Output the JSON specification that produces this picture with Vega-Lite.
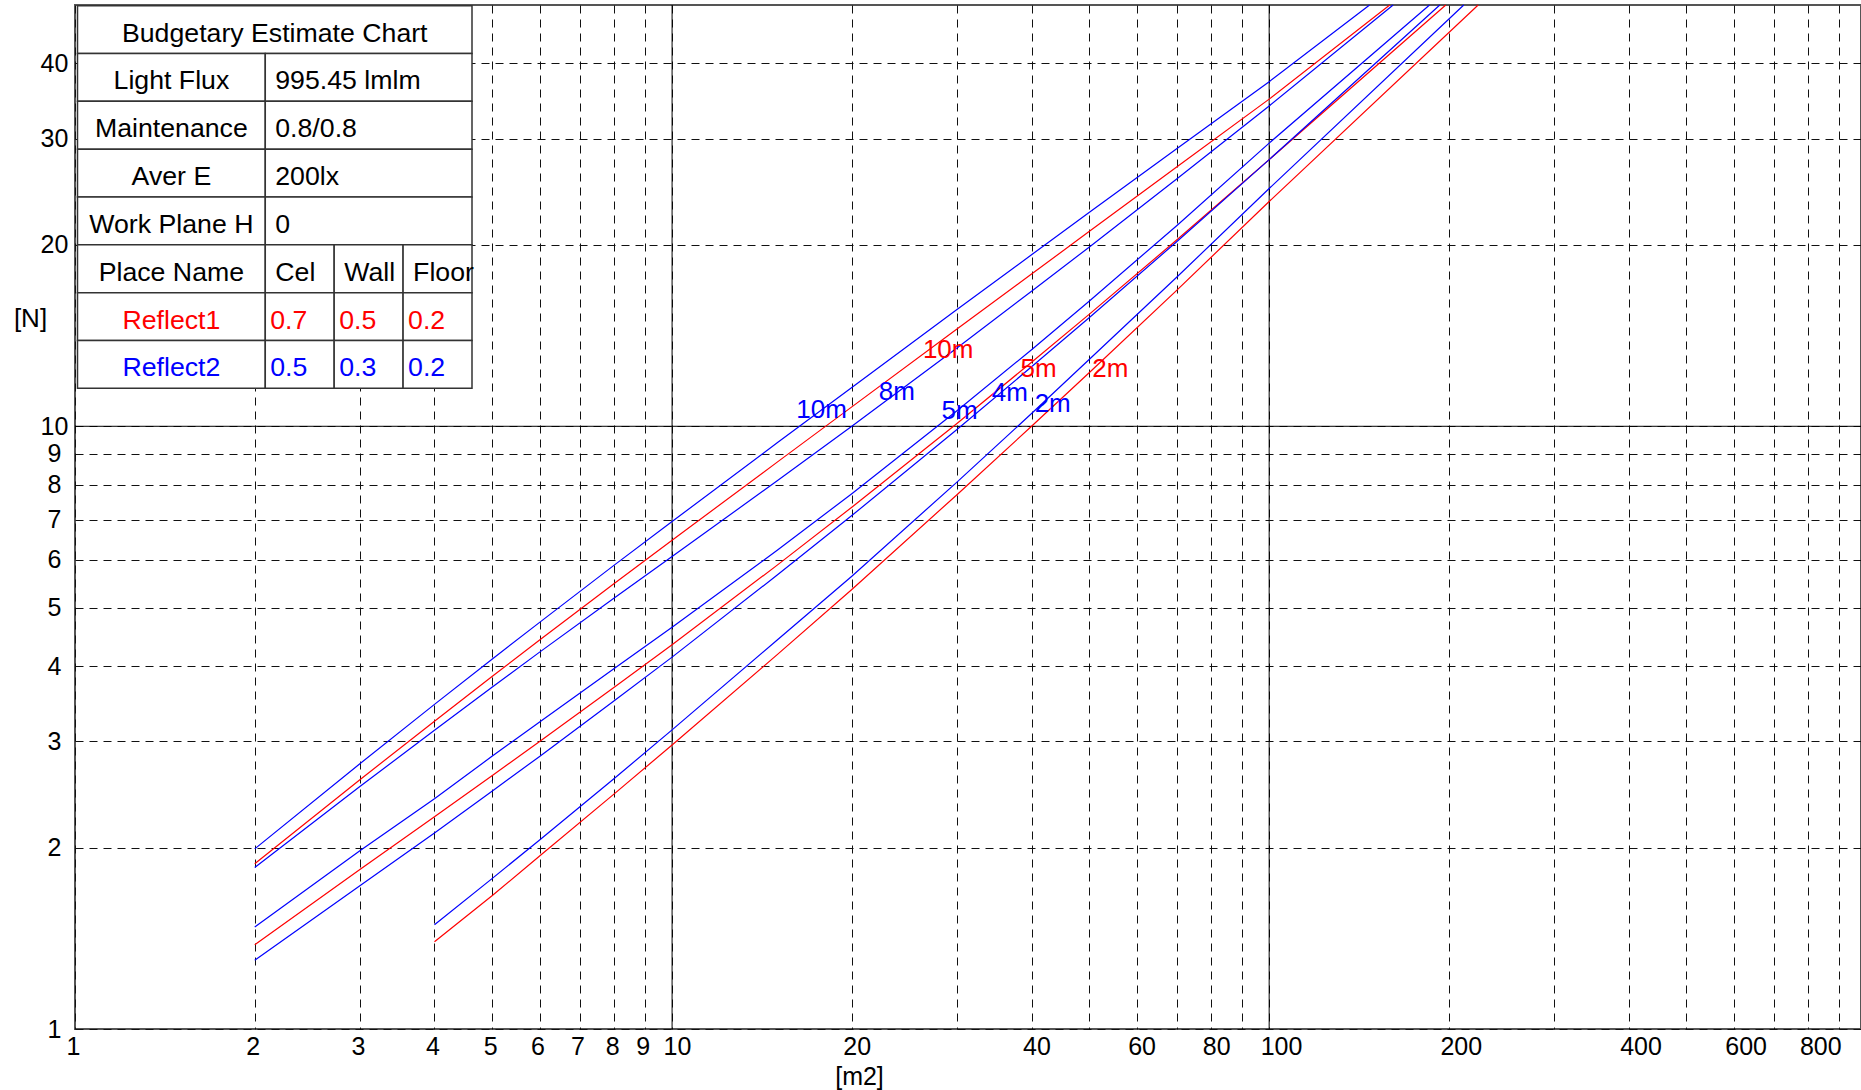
{
  "$schema": "https://vega.github.io/schema/vega-lite/v6.json",
  "width": 1786,
  "height": 1024,
  "autosize": "none",
  "padding": {"left": 75, "top": 5, "right": 0, "bottom": 61},
  "background": "white",
  "config": {
    "view": {"stroke": "#555", "strokeWidth": 2},
    "font": "Liberation Sans",
    "axis": {"domain": false, "ticks": false}
  },
  "resolve": {"scale": {"x": "independent", "y": "independent"}},
  "layer": [
    {
      "layer": [
        {
          "data": {"values": [{"area": 10}, {"area": 100}]},
          "mark": {"type": "rule", "color": "#000", "strokeWidth": 1},
          "encoding": {
            "x": {"field": "area", "type": "quantitative", "scale": {"type": "log", "domain": [1, 980], "nice": false, "zero": false}}
          }
        },
        {
          "data": {"values": [{"n": 10}]},
          "mark": {"type": "rule", "color": "#000", "strokeWidth": 1},
          "encoding": {
            "y": {"field": "n", "type": "quantitative", "scale": {"type": "log", "domain": [1, 50], "nice": false, "zero": false}}
          }
        },
        {
          "data": {"values": [
            {"refl": "Reflect2", "h": "10m", "area": 2, "n": 1.99},
            {"refl": "Reflect2", "h": "10m", "area": 3, "n": 2.755},
            {"refl": "Reflect2", "h": "10m", "area": 4, "n": 3.456},
            {"refl": "Reflect2", "h": "10m", "area": 5, "n": 4.111},
            {"refl": "Reflect2", "h": "10m", "area": 6, "n": 4.728},
            {"refl": "Reflect2", "h": "10m", "area": 8, "n": 5.884},
            {"refl": "Reflect2", "h": "10m", "area": 10, "n": 6.95},
            {"refl": "Reflect2", "h": "10m", "area": 15, "n": 9.39},
            {"refl": "Reflect2", "h": "10m", "area": 20, "n": 11.6},
            {"refl": "Reflect2", "h": "10m", "area": 30, "n": 15.62},
            {"refl": "Reflect2", "h": "10m", "area": 40, "n": 19.26},
            {"refl": "Reflect2", "h": "10m", "area": 50, "n": 22.65},
            {"refl": "Reflect2", "h": "10m", "area": 70, "n": 28.87},
            {"refl": "Reflect2", "h": "10m", "area": 100, "n": 37.3},
            {"refl": "Reflect2", "h": "10m", "area": 147.3, "n": 50},

            {"refl": "Reflect1", "h": "10m", "area": 2, "n": 1.88},
            {"refl": "Reflect1", "h": "10m", "area": 3, "n": 2.592},
            {"refl": "Reflect1", "h": "10m", "area": 4, "n": 3.24},
            {"refl": "Reflect1", "h": "10m", "area": 5, "n": 3.848},
            {"refl": "Reflect1", "h": "10m", "area": 6, "n": 4.419},
            {"refl": "Reflect1", "h": "10m", "area": 8, "n": 5.484},
            {"refl": "Reflect1", "h": "10m", "area": 10, "n": 6.47},
            {"refl": "Reflect1", "h": "10m", "area": 15, "n": 8.72},
            {"refl": "Reflect1", "h": "10m", "area": 20, "n": 10.77},
            {"refl": "Reflect1", "h": "10m", "area": 30, "n": 14.5},
            {"refl": "Reflect1", "h": "10m", "area": 40, "n": 17.89},
            {"refl": "Reflect1", "h": "10m", "area": 50, "n": 21.06},
            {"refl": "Reflect1", "h": "10m", "area": 70, "n": 26.92},
            {"refl": "Reflect1", "h": "10m", "area": 100, "n": 34.9},
            {"refl": "Reflect1", "h": "10m", "area": 159.2, "n": 50},

            {"refl": "Reflect2", "h": "8m", "area": 2, "n": 1.853},
            {"refl": "Reflect2", "h": "8m", "area": 3, "n": 2.525},
            {"refl": "Reflect2", "h": "8m", "area": 4, "n": 3.131},
            {"refl": "Reflect2", "h": "8m", "area": 5, "n": 3.693},
            {"refl": "Reflect2", "h": "8m", "area": 6, "n": 4.22},
            {"refl": "Reflect2", "h": "8m", "area": 8, "n": 5.19},
            {"refl": "Reflect2", "h": "8m", "area": 10, "n": 6.08},
            {"refl": "Reflect2", "h": "8m", "area": 15, "n": 8.12},
            {"refl": "Reflect2", "h": "8m", "area": 20, "n": 10.0},
            {"refl": "Reflect2", "h": "8m", "area": 30, "n": 13.49},
            {"refl": "Reflect2", "h": "8m", "area": 40, "n": 16.75},
            {"refl": "Reflect2", "h": "8m", "area": 50, "n": 19.84},
            {"refl": "Reflect2", "h": "8m", "area": 70, "n": 25.72},
            {"refl": "Reflect2", "h": "8m", "area": 100, "n": 34.0},
            {"refl": "Reflect2", "h": "8m", "area": 161.3, "n": 50},

            {"refl": "Reflect2", "h": "5m", "area": 2, "n": 1.477},
            {"refl": "Reflect2", "h": "5m", "area": 3, "n": 1.975},
            {"refl": "Reflect2", "h": "5m", "area": 4, "n": 2.41},
            {"refl": "Reflect2", "h": "5m", "area": 5, "n": 2.837},
            {"refl": "Reflect2", "h": "5m", "area": 6, "n": 3.231},
            {"refl": "Reflect2", "h": "5m", "area": 8, "n": 3.963},
            {"refl": "Reflect2", "h": "5m", "area": 10, "n": 4.64},
            {"refl": "Reflect2", "h": "5m", "area": 15, "n": 6.225},
            {"refl": "Reflect2", "h": "5m", "area": 20, "n": 7.73},
            {"refl": "Reflect2", "h": "5m", "area": 30, "n": 10.61},
            {"refl": "Reflect2", "h": "5m", "area": 40, "n": 13.4},
            {"refl": "Reflect2", "h": "5m", "area": 50, "n": 16.14},
            {"refl": "Reflect2", "h": "5m", "area": 70, "n": 21.52},
            {"refl": "Reflect2", "h": "5m", "area": 100, "n": 29.5},
            {"refl": "Reflect2", "h": "5m", "area": 185.6, "n": 50},

            {"refl": "Reflect1", "h": "5m", "area": 2, "n": 1.38},
            {"refl": "Reflect1", "h": "5m", "area": 3, "n": 1.84},
            {"refl": "Reflect1", "h": "5m", "area": 4, "n": 2.25},
            {"refl": "Reflect1", "h": "5m", "area": 5, "n": 2.633},
            {"refl": "Reflect1", "h": "5m", "area": 6, "n": 3.0},
            {"refl": "Reflect1", "h": "5m", "area": 8, "n": 3.69},
            {"refl": "Reflect1", "h": "5m", "area": 10, "n": 4.34},
            {"refl": "Reflect1", "h": "5m", "area": 15, "n": 5.884},
            {"refl": "Reflect1", "h": "5m", "area": 20, "n": 7.34},
            {"refl": "Reflect1", "h": "5m", "area": 30, "n": 10.11},
            {"refl": "Reflect1", "h": "5m", "area": 40, "n": 12.77},
            {"refl": "Reflect1", "h": "5m", "area": 50, "n": 15.35},
            {"refl": "Reflect1", "h": "5m", "area": 70, "n": 20.37},
            {"refl": "Reflect1", "h": "5m", "area": 100, "n": 27.7},
            {"refl": "Reflect1", "h": "5m", "area": 197.6, "n": 50},

            {"refl": "Reflect2", "h": "4m", "area": 2, "n": 1.3},
            {"refl": "Reflect2", "h": "4m", "area": 3, "n": 1.728},
            {"refl": "Reflect2", "h": "4m", "area": 4, "n": 2.115},
            {"refl": "Reflect2", "h": "4m", "area": 5, "n": 2.483},
            {"refl": "Reflect2", "h": "4m", "area": 6, "n": 2.833},
            {"refl": "Reflect2", "h": "4m", "area": 8, "n": 3.505},
            {"refl": "Reflect2", "h": "4m", "area": 10, "n": 4.14},
            {"refl": "Reflect2", "h": "4m", "area": 15, "n": 5.665},
            {"refl": "Reflect2", "h": "4m", "area": 20, "n": 7.11},
            {"refl": "Reflect2", "h": "4m", "area": 30, "n": 9.88},
            {"refl": "Reflect2", "h": "4m", "area": 40, "n": 12.55},
            {"refl": "Reflect2", "h": "4m", "area": 50, "n": 15.15},
            {"refl": "Reflect2", "h": "4m", "area": 70, "n": 20.24},
            {"refl": "Reflect2", "h": "4m", "area": 100, "n": 27.7},
            {"refl": "Reflect2", "h": "4m", "area": 193.1, "n": 50},

            {"refl": "Reflect2", "h": "2m", "area": 4, "n": 1.489},
            {"refl": "Reflect2", "h": "2m", "area": 5, "n": 1.778},
            {"refl": "Reflect2", "h": "2m", "area": 6, "n": 2.059},
            {"refl": "Reflect2", "h": "2m", "area": 8, "n": 2.604},
            {"refl": "Reflect2", "h": "2m", "area": 10, "n": 3.135},
            {"refl": "Reflect2", "h": "2m", "area": 15, "n": 4.42},
            {"refl": "Reflect2", "h": "2m", "area": 20, "n": 5.64},
            {"refl": "Reflect2", "h": "2m", "area": 30, "n": 8.08},
            {"refl": "Reflect2", "h": "2m", "area": 40, "n": 10.5},
            {"refl": "Reflect2", "h": "2m", "area": 50, "n": 12.92},
            {"refl": "Reflect2", "h": "2m", "area": 70, "n": 17.67},
            {"refl": "Reflect2", "h": "2m", "area": 100, "n": 24.8},
            {"refl": "Reflect2", "h": "2m", "area": 211.8, "n": 50},

            {"refl": "Reflect1", "h": "2m", "area": 4, "n": 1.396},
            {"refl": "Reflect1", "h": "2m", "area": 5, "n": 1.665},
            {"refl": "Reflect1", "h": "2m", "area": 6, "n": 1.937},
            {"refl": "Reflect1", "h": "2m", "area": 8, "n": 2.455},
            {"refl": "Reflect1", "h": "2m", "area": 10, "n": 2.96},
            {"refl": "Reflect1", "h": "2m", "area": 15, "n": 4.18},
            {"refl": "Reflect1", "h": "2m", "area": 20, "n": 5.36},
            {"refl": "Reflect1", "h": "2m", "area": 30, "n": 7.7},
            {"refl": "Reflect1", "h": "2m", "area": 40, "n": 10.0},
            {"refl": "Reflect1", "h": "2m", "area": 50, "n": 12.28},
            {"refl": "Reflect1", "h": "2m", "area": 70, "n": 16.81},
            {"refl": "Reflect1", "h": "2m", "area": 100, "n": 23.6},
            {"refl": "Reflect1", "h": "2m", "area": 223.9, "n": 50}
          ]},
          "mark": {"type": "line", "strokeWidth": 1.2},
          "encoding": {
            "x": {
              "field": "area", "type": "quantitative",
              "scale": {"type": "log", "domain": [1, 980], "nice": false, "zero": false},
              "axis": {
                "title": "[m2]",
                "values": [1,2,3,4,5,6,7,8,9,10,20,30,40,50,60,70,80,90,100,200,300,400,500,600,700,800,900],
                "format": "d",
                "labelExpr": "indexof([30,50,70,90,300,500,700,900], datum.value) >= 0 ? '' : datum.label",
                "grid": true, "gridColor": "#111", "gridDash": [8, 6], "gridWidth": 1,
                "labelFont": "Liberation Sans", "labelFontSize": 25, "labelColor": "#000",
                "labelAlign": "left", "labelOffset": -9, "labelPadding": 5, "labelBaseline": "top",
                "labelFlush": false, "labelOverlap": false, "labelBound": false,
                "titleFont": "Liberation Sans", "titleFontSize": 25, "titleFontWeight": "normal", "titleColor": "#000",
                "titleX": 784, "titleY": 47, "titleAlign": "center", "titleBaseline": "middle", "titleAnchor": null
              }
            },
            "y": {
              "field": "n", "type": "quantitative",
              "scale": {"type": "log", "domain": [1, 50], "nice": false, "zero": false},
              "axis": {
                "title": "[N]",
                "values": [1,2,3,4,5,6,7,8,9,10,20,30,40],
                "format": "d",
                "grid": true, "gridColor": "#111", "gridDash": [8, 6], "gridWidth": 1,
                "labelFont": "Liberation Sans", "labelFontSize": 25, "labelColor": "#000",
                "labelAlign": "center", "labelBaseline": "middle", "labelPadding": 21,
                "labelFlush": false, "labelOverlap": false, "labelBound": false,
                "titleFont": "Liberation Sans", "titleFontSize": 26, "titleFontWeight": "normal", "titleColor": "#000",
                "titleAngle": 0, "titleX": -45, "titleY": 313, "titleAlign": "center", "titleBaseline": "middle", "titleAnchor": null
              }
            },
            "color": {
              "field": "refl", "type": "nominal",
              "scale": {"domain": ["Reflect1", "Reflect2", "plain"], "range": ["#ff0000", "#0000ff", "#000000"]},
              "legend": null
            },
            "detail": {"field": "h", "type": "nominal"}
          }
        },
        {
          "data": {"values": [
            {"refl": "Reflect2", "h": "10m", "area": 17.8, "n": 10.65},
            {"refl": "Reflect2", "h": "8m", "area": 23.8, "n": 11.4},
            {"refl": "Reflect1", "h": "10m", "area": 29.0, "n": 13.37},
            {"refl": "Reflect2", "h": "5m", "area": 30.3, "n": 10.59},
            {"refl": "Reflect2", "h": "4m", "area": 36.8, "n": 11.34},
            {"refl": "Reflect1", "h": "5m", "area": 41.1, "n": 12.47},
            {"refl": "Reflect2", "h": "2m", "area": 43.4, "n": 10.88},
            {"refl": "Reflect1", "h": "2m", "area": 54.2, "n": 12.43}
          ]},
          "mark": {"type": "text", "align": "center", "baseline": "middle", "fontSize": 26, "font": "Liberation Sans"},
          "encoding": {
            "x": {"field": "area", "type": "quantitative"},
            "y": {"field": "n", "type": "quantitative"},
            "text": {"field": "h"},
            "color": {
              "field": "refl", "type": "nominal",
              "scale": {"domain": ["Reflect1", "Reflect2", "plain"], "range": ["#ff0000", "#0000ff", "#000000"]},
              "legend": null
            }
          }
        }
      ]
    },
    {
      "data": {"values": [
        {"row": 0, "c0": 0, "c1": 5.725, "cx": 2.8625, "text": "Budgetary Estimate Chart", "kind": "title", "grp": "plain"},
        {"row": 1, "c0": 0, "c1": 2.725, "cx": 1.3625, "text": "Light Flux", "kind": "label", "grp": "plain"},
        {"row": 1, "c0": 2.725, "c1": 5.725, "cx": 4.225, "text": "995.45 lmlm", "kind": "value", "grp": "plain"},
        {"row": 2, "c0": 0, "c1": 2.725, "cx": 1.3625, "text": "Maintenance", "kind": "label", "grp": "plain"},
        {"row": 2, "c0": 2.725, "c1": 5.725, "cx": 4.225, "text": "0.8/0.8", "kind": "value", "grp": "plain"},
        {"row": 3, "c0": 0, "c1": 2.725, "cx": 1.3625, "text": "Aver E", "kind": "label", "grp": "plain"},
        {"row": 3, "c0": 2.725, "c1": 5.725, "cx": 4.225, "text": "200lx", "kind": "value", "grp": "plain"},
        {"row": 4, "c0": 0, "c1": 2.725, "cx": 1.3625, "text": "Work Plane H", "kind": "label", "grp": "plain"},
        {"row": 4, "c0": 2.725, "c1": 5.725, "cx": 4.225, "text": "0", "kind": "value", "grp": "plain"},
        {"row": 5, "c0": 0, "c1": 2.725, "cx": 1.3625, "text": "Place Name", "kind": "label", "grp": "plain"},
        {"row": 5, "c0": 2.725, "c1": 3.725, "cx": 3.225, "text": "Cel", "kind": "value", "grp": "plain"},
        {"row": 5, "c0": 3.725, "c1": 4.725, "cx": 4.225, "text": "Wall", "kind": "value", "grp": "plain"},
        {"row": 5, "c0": 4.725, "c1": 5.725, "cx": 5.225, "text": "Floor", "kind": "value", "grp": "plain"},
        {"row": 6, "c0": 0, "c1": 2.725, "cx": 1.3625, "text": "Reflect1", "kind": "label", "grp": "Reflect1"},
        {"row": 6, "c0": 2.725, "c1": 3.725, "cx": 3.225, "text": "0.7", "kind": "num", "grp": "Reflect1"},
        {"row": 6, "c0": 3.725, "c1": 4.725, "cx": 4.225, "text": "0.5", "kind": "num", "grp": "Reflect1"},
        {"row": 6, "c0": 4.725, "c1": 5.725, "cx": 5.225, "text": "0.2", "kind": "num", "grp": "Reflect1"},
        {"row": 7, "c0": 0, "c1": 2.725, "cx": 1.3625, "text": "Reflect2", "kind": "label", "grp": "Reflect2"},
        {"row": 7, "c0": 2.725, "c1": 3.725, "cx": 3.225, "text": "0.5", "kind": "num", "grp": "Reflect2"},
        {"row": 7, "c0": 3.725, "c1": 4.725, "cx": 4.225, "text": "0.3", "kind": "num", "grp": "Reflect2"},
        {"row": 7, "c0": 4.725, "c1": 5.725, "cx": 5.225, "text": "0.2", "kind": "num", "grp": "Reflect2"}
      ]},
      "layer": [
        {
          "mark": {"type": "rect", "fill": "#ffffff", "stroke": "#333333", "strokeWidth": 1.5},
          "encoding": {
            "x": {"field": "c0", "type": "quantitative", "scale": {"domain": [0, 5.725], "range": [2.5, 397], "zero": false, "nice": false}, "axis": null},
            "x2": {"field": "c1"},
            "y": {"field": "row", "type": "ordinal", "scale": {"range": [0.7, 383.3], "paddingInner": 0, "paddingOuter": 0}, "axis": null}
          }
        },
        {
          "transform": [{"filter": "datum.kind === 'title' || datum.kind === 'label'"}],
          "mark": {"type": "text", "align": "center", "baseline": "middle", "dy": 4, "fontSize": 26.7, "font": "Liberation Sans"},
          "encoding": {
            "x": {"field": "cx", "type": "quantitative"},
            "y": {"field": "row", "type": "ordinal"},
            "text": {"field": "text"},
            "color": {"field": "grp", "type": "nominal", "scale": {"domain": ["Reflect1", "Reflect2", "plain"], "range": ["#ff0000", "#0000ff", "#000000"]}, "legend": null}
          }
        },
        {
          "transform": [{"filter": "datum.kind === 'value'"}],
          "mark": {"type": "text", "align": "left", "baseline": "middle", "dx": 10, "dy": 4, "fontSize": 26.7, "font": "Liberation Sans"},
          "encoding": {
            "x": {"field": "c0", "type": "quantitative"},
            "y": {"field": "row", "type": "ordinal"},
            "text": {"field": "text"},
            "color": {"field": "grp", "type": "nominal", "scale": {"domain": ["Reflect1", "Reflect2", "plain"], "range": ["#ff0000", "#0000ff", "#000000"]}, "legend": null}
          }
        },
        {
          "transform": [{"filter": "datum.kind === 'num'"}],
          "mark": {"type": "text", "align": "left", "baseline": "middle", "dx": 5, "dy": 4, "fontSize": 26.7, "font": "Liberation Sans"},
          "encoding": {
            "x": {"field": "c0", "type": "quantitative"},
            "y": {"field": "row", "type": "ordinal"},
            "text": {"field": "text"},
            "color": {"field": "grp", "type": "nominal", "scale": {"domain": ["Reflect1", "Reflect2", "plain"], "range": ["#ff0000", "#0000ff", "#000000"]}, "legend": null}
          }
        }
      ]
    }
  ]
}
